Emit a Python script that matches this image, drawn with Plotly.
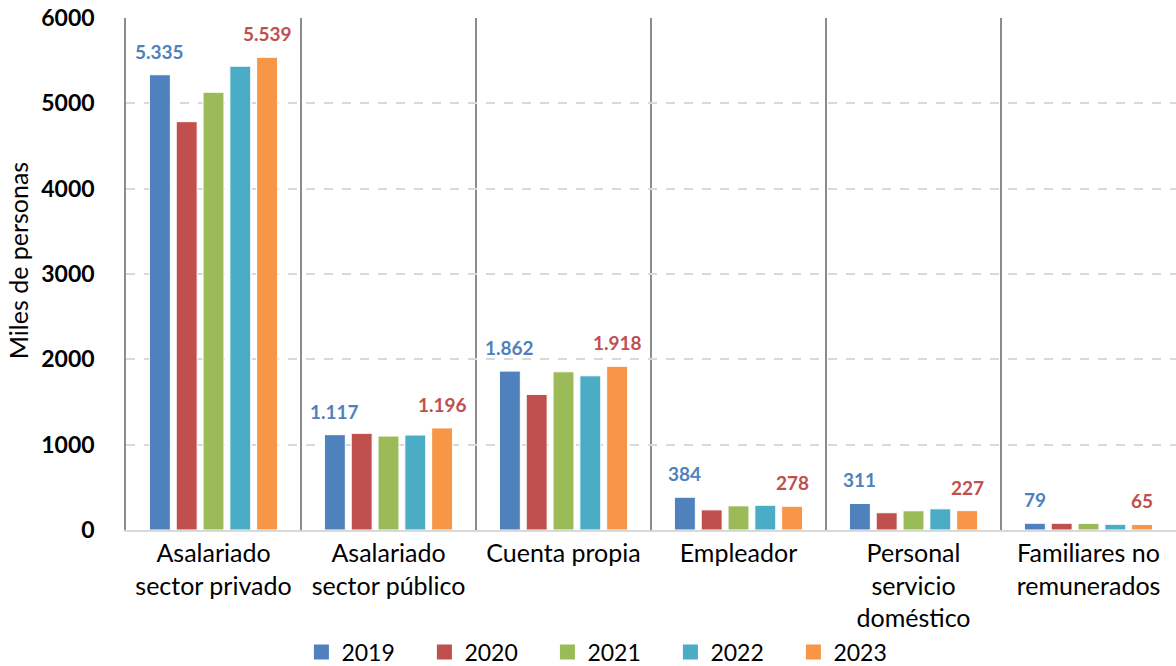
import plotly.graph_objects as go

categories = ["Asalariado<br>sector privado", "Asalariado<br>sector público", "Cuenta propia",
              "Empleador", "Personal<br>servicio<br>doméstico", "Familiares no<br>remunerados"]
years = ["2019", "2020", "2021", "2022", "2023"]
v2019 = [5335, 1117, 1862, 384, 311, 79]
v2020 = [4785, 1133, 1589, 236, 202, 79]
v2021 = [5130, 1101, 1854, 283, 225, 78]
v2022 = [5435, 1113, 1807, 290, 248, 67]
v2023 = [5539, 1196, 1918, 278, 227, 65]
series = [v2019, v2020, v2021, v2022, v2023]
colors = ["#4F81BD", "#C0504D", "#9BBB59", "#4BACC6", "#F79646"]
yticks = [0, 1000, 2000, 3000, 4000, 5000, 6000]

W, H = 1176, 666
ML, MR, MT, MB = 126, 0, 18, 136
BARGAP, GROUPGAP = 0.234, 0.22
FONT = "Lato, 'Open Sans', sans-serif"

fig = go.Figure()
for yr, vals, col in zip(years, series, colors):
    fig.add_trace(go.Bar(x=categories, y=vals, name=yr, marker_color=col,
                         marker_line_color="white", marker_line_width=1,
                         legendgroup=yr, showlegend=False))
# legend entries with larger square swatches
for yr, col in zip(years, colors):
    fig.add_trace(go.Scatter(x=[None], y=[None], mode="markers", name=yr, legendgroup=yr,
                             marker=dict(symbol="square", size=15, color=col)))

# data labels for first and last year
cat_px = (W - ML - MR) / len(categories)
slot = cat_px * (1 - BARGAP) / len(years)
def fmt(v):
    return f"{v:,}".replace(",", ".")
for vals, idx, col in [(v2019, 0, "#4F81BD"), (v2023, 4, "#C0504D")]:
    shift = (idx - (len(years) - 1) / 2) * slot
    for c, v in zip(categories, vals):
        fig.add_annotation(x=c, y=v, text=fmt(v), showarrow=False, xshift=shift,
                           yshift=10, yanchor="bottom",
                           font=dict(family=FONT, size=19, color=col, weight="bold"))

fig.add_annotation(text="Miles de personas", textangle=-90, showarrow=False,
                   xref="paper", yref="paper", x=-(ML - 18) / (W - ML - MR), y=0.525,
                   xanchor="center", yanchor="middle",
                   font=dict(family=FONT, size=25, color="black"))

fig.update_layout(
    width=W, height=H, margin=dict(l=ML, r=MR, t=MT, b=MB, autoexpand=False),
    paper_bgcolor="white", plot_bgcolor="white",
    barmode="group", bargap=BARGAP, bargroupgap=GROUPGAP,
    font=dict(family=FONT, color="black"),
    xaxis=dict(tickson="boundaries", showgrid=True, gridcolor="#8c8c8c", gridwidth=1.5,
               showline=True, linecolor="#d9d9d9", linewidth=2, ticks="", automargin=False,
               tickfont=dict(size=25, color="black"), ticklabelstandoff=0),
    yaxis=dict(range=[0, 6000], tickvals=yticks, showgrid=True, gridcolor="#d9d9d9",
               gridwidth=2, griddash="dash", zeroline=False, showline=True, automargin=False,
               linecolor="#8c8c8c", linewidth=1.5, ticks="", ticklabelstandoff=25,
               tickfont=dict(size=23, color="black", weight="bold")),
    legend=dict(orientation="h", xref="container", yref="paper", x=0.2563, y=-0.2383,
                xanchor="left", yanchor="middle", font=dict(size=23, color="black"),
                bgcolor="rgba(0,0,0,0)",
                entrywidth=78, itemwidth=30, traceorder="normal"),
)

fig.write_html("out.html", config={"displayModeBar": False},
               post_script="document.body.style.margin='0';")
